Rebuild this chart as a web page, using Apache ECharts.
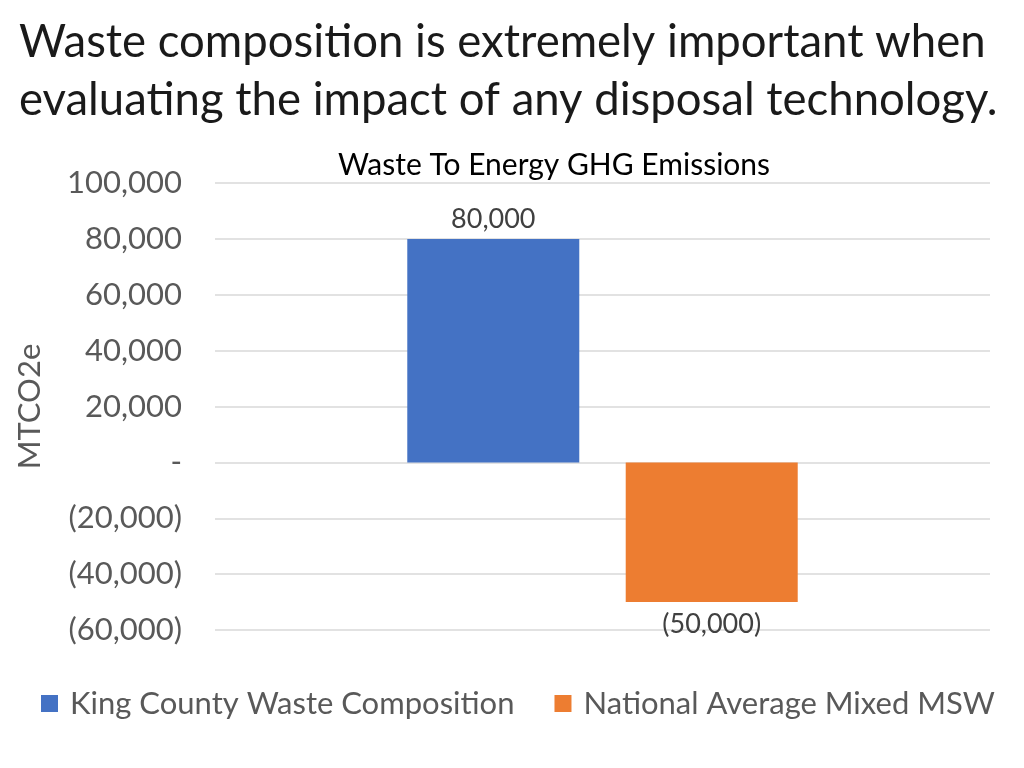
<!DOCTYPE html>
<html><head><meta charset="utf-8">
<script src="https://cdn.jsdelivr.net/npm/echarts@6/dist/echarts.min.js"></script>
<style>html,body{margin:0;padding:0;background:#fff}#c{width:1024px;height:768px}</style>
</head><body><div id="c"></div>
<script>
const headline = ["Waste composition is extremely important when", "evaluating the impact of any disposal technology."];
const chartTitle = "Waste To Energy GHG Emissions";
const categories = [""];
const seriesNames = ["King County Waste Composition", "National Average Mixed MSW"];
const kingCounty = [80000];
const nationalAvg = [-50000];
const yAxisName = "MTCO2e";

const FONT = "Lato";
function fmt(v){
  if (v === 0) return "-";
  const s = Math.abs(v).toLocaleString("en-US");
  return v < 0 ? "(" + s + ")" : s;
}
const chart = echarts.init(document.getElementById("c"));
chart.setOption({
  animation:false,
  textStyle:{fontFamily:FONT},
  title:[
    {text: headline.join("\n"), left:14, top:8,
     textStyle:{fontFamily:FONT,fontSize:45.5,fontWeight:"normal",color:"#1a1a1a",lineHeight:58}},
    {text: chartTitle, left:549, textAlign:"center", top:145,
     textStyle:{fontFamily:FONT,fontSize:30,fontWeight:"normal",color:"#000"}}
  ],
  legend:{bottom:44, left:36, itemWidth:17, itemHeight:17, itemGap:40, icon:"rect",
    textStyle:{fontFamily:FONT,fontSize:31,color:"#595959",padding:[0,0,0,7]}},
  grid:{left:215,right:34,top:183,bottom:138,containLabel:false},
  xAxis:{type:"category",data:categories,axisLine:{show:false},axisTick:{show:false},axisLabel:{show:false}},
  yAxis:{type:"value",min:-60000,max:100000,interval:20000,
    name:yAxisName,nameLocation:"middle",nameGap:170,nameRotate:90,
    nameTextStyle:{fontFamily:FONT,fontSize:31,color:"#595959"},
    axisLabel:{formatter:fmt,fontFamily:FONT,fontSize:31,color:"#595959",margin:33},
    splitLine:{lineStyle:{color:"#d9d9d9",width:1.5}},
    axisLine:{show:false},axisTick:{show:false}},
  series:[
    {name:seriesNames[0],type:"bar",data:kingCounty,barWidth:172,barGap:"27%",
     itemStyle:{color:"#4472C4"},
     label:{show:true,position:"top",distance:6,formatter:p=>fmt(p.value),fontFamily:FONT,fontSize:27,color:"#404040"}},
    {name:seriesNames[1],type:"bar",data:nationalAvg,barWidth:172,
     itemStyle:{color:"#ED7D31"},
     label:{show:true,position:"bottom",distance:9,formatter:p=>fmt(p.value),fontFamily:FONT,fontSize:27,color:"#404040"}}
  ]
});
</script></body></html>
